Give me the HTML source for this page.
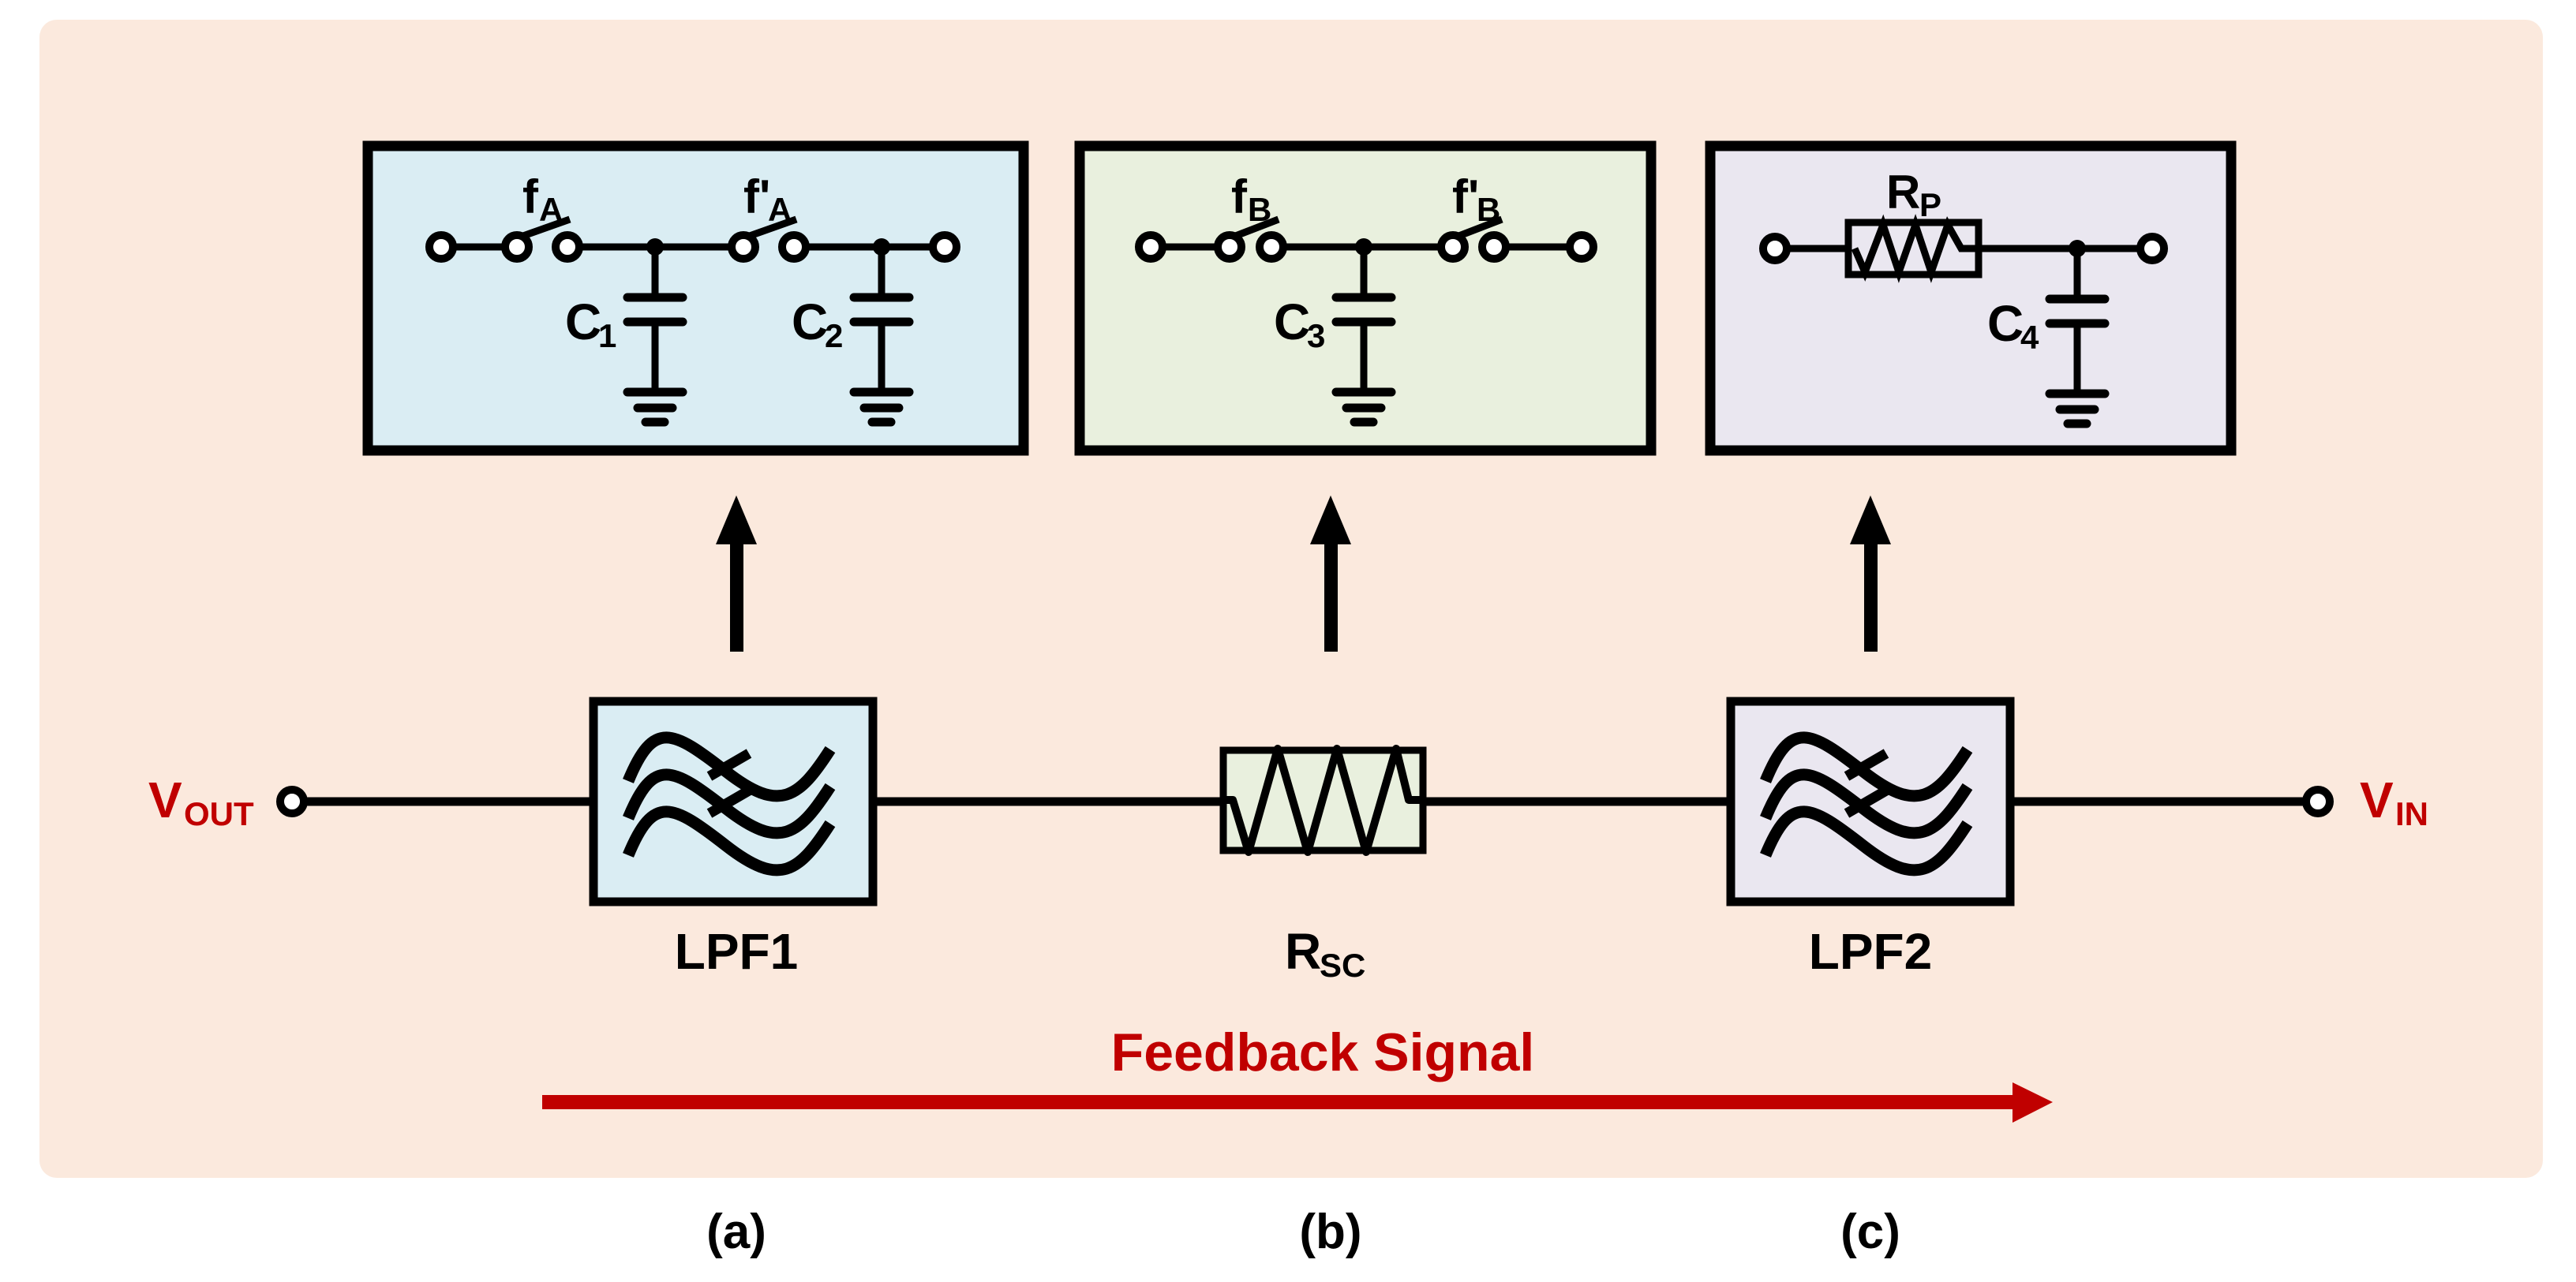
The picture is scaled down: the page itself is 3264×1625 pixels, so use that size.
<!DOCTYPE html>
<html><head><meta charset="utf-8"><style>html,body{margin:0;padding:0;background:#fff}svg{display:block}</style></head>
<body>
<svg width="3264" height="1625" viewBox="0 0 3264 1625" xmlns="http://www.w3.org/2000/svg" font-family="Liberation Sans, Arial, sans-serif" font-weight="bold">
<defs>
<g id="wave"><path d="M796,990 C828,912 852,925 920,978 S1012,1012 1052,950" fill="none" stroke="#000" stroke-width="15"/></g>
<g id="filt">
<use href="#wave"/><use href="#wave" transform="translate(0,47)"/><use href="#wave" transform="translate(0,94)"/>
<line x1="899" y1="984" x2="949" y2="955" stroke="#000" stroke-width="13"/>
<line x1="899" y1="1031" x2="949" y2="1002" stroke="#000" stroke-width="13"/>
</g>
<g id="cap">
<line x1="0" y1="0" x2="0" y2="64" stroke="#000" stroke-width="9"/>
<line x1="-35" y1="64" x2="35" y2="64" stroke="#000" stroke-width="11" stroke-linecap="round"/>
<line x1="-35" y1="95" x2="35" y2="95" stroke="#000" stroke-width="11" stroke-linecap="round"/>
<line x1="0" y1="95" x2="0" y2="184" stroke="#000" stroke-width="9"/>
<line x1="-35" y1="184" x2="35" y2="184" stroke="#000" stroke-width="11" stroke-linecap="round"/>
<line x1="-22" y1="204" x2="22" y2="204" stroke="#000" stroke-width="11" stroke-linecap="round"/>
<line x1="-12" y1="222" x2="12" y2="222" stroke="#000" stroke-width="11" stroke-linecap="round"/>
<circle cx="0" cy="0" r="11" fill="#000"/>
</g>
<g id="term"><circle r="15" fill="#fff" stroke="#000" stroke-width="10"/></g>
</defs>
<rect x="50" y="25" width="3172" height="1468" rx="22" fill="#fbe9dd"/>

<rect x="466" y="185" width="831" height="386" fill="#daedf3" stroke="#000" stroke-width="13"/>
<rect x="1368" y="185" width="724" height="386" fill="#e9f0de" stroke="#000" stroke-width="13"/>
<rect x="2167" y="185" width="660" height="386" fill="#eae7f0" stroke="#000" stroke-width="13"/>

<g stroke="#000" stroke-width="9">
<line x1="559" y1="313" x2="655" y2="313"/>
<line x1="719" y1="313" x2="942" y2="313"/>
<line x1="1006" y1="313" x2="1197" y2="313"/>
<line x1="660" y1="300" x2="722" y2="278"/>
<line x1="947" y1="300" x2="1009" y2="278"/>
</g>
<use href="#cap" transform="translate(830,313)"/>
<use href="#cap" transform="translate(1117,313)"/>
<use href="#term" x="559" y="313"/><use href="#term" x="655" y="313"/><use href="#term" x="719" y="313"/>
<use href="#term" x="942" y="313"/><use href="#term" x="1006" y="313"/><use href="#term" x="1197" y="313"/>
<text x="662" y="270" font-size="60">f</text><text x="683" y="280" font-size="42">A</text>
<text x="942" y="270" font-size="60">f'</text><text x="973" y="280" font-size="42">A</text>
<text x="716" y="430" font-size="64">C</text><text x="758" y="440" font-size="42">1</text>
<text x="1003" y="430" font-size="64">C</text><text x="1045" y="440" font-size="42">2</text>

<g stroke="#000" stroke-width="9">
<line x1="1458" y1="313" x2="1558" y2="313"/>
<line x1="1611" y1="313" x2="1841" y2="313"/>
<line x1="1893" y1="313" x2="2004" y2="313"/>
<line x1="1563" y1="300" x2="1620" y2="278"/>
<line x1="1846" y1="300" x2="1903" y2="278"/>
</g>
<use href="#cap" transform="translate(1728,313)"/>
<use href="#term" x="1458" y="313"/><use href="#term" x="1558" y="313"/><use href="#term" x="1611" y="313"/>
<use href="#term" x="1841" y="313"/><use href="#term" x="1893" y="313"/><use href="#term" x="2004" y="313"/>
<text x="1560" y="270" font-size="60">f</text><text x="1581" y="280" font-size="42">B</text>
<text x="1840" y="270" font-size="60">f'</text><text x="1871" y="280" font-size="42">B</text>
<text x="1614" y="430" font-size="64">C</text><text x="1656" y="440" font-size="42">3</text>

<g stroke="#000" stroke-width="9">
<line x1="2249" y1="315" x2="2342" y2="315"/>
<line x1="2507" y1="315" x2="2727" y2="315"/>
<rect x="2342" y="282" width="165" height="66" fill="none"/>
<polyline points="2350,315 2363,345 2386,285 2406,345 2427,285 2447,345 2468,285 2485,315 2507,315" fill="none"/>
</g>
<use href="#cap" transform="translate(2632,315)"/>
<use href="#term" x="2249" y="315"/><use href="#term" x="2727" y="315"/>
<text x="2390" y="264" font-size="60">R</text><text x="2432" y="274" font-size="42">P</text>
<text x="2518" y="432" font-size="64">C</text><text x="2560" y="442" font-size="42">4</text>

<g fill="#000">
<rect x="925" y="680" width="17" height="146"/><polygon points="907,690 959,690 933,628"/>
<rect x="1678" y="680" width="17" height="146"/><polygon points="1660,690 1712,690 1686,628"/>
<rect x="2362" y="680" width="17" height="146"/><polygon points="2344,690 2396,690 2370,628"/>
</g>

<line x1="370" y1="1016" x2="2937" y2="1016" stroke="#000" stroke-width="11"/>
<rect x="752" y="889" width="354" height="254" fill="#daedf3" stroke="#000" stroke-width="11"/>
<use href="#filt"/>
<rect x="2193" y="889" width="354" height="254" fill="#eae7f0" stroke="#000" stroke-width="11"/>
<use href="#filt" transform="translate(1441,0)"/>
<rect x="1550" y="951" width="253" height="127" fill="#e9f0de" stroke="#000" stroke-width="9"/>
<polyline points="1550,1014 1562,1014 1582,1080 1619,949 1657,1080 1694,949 1731,1080 1769,949 1785,1014 1803,1014" fill="none" stroke="#000" stroke-width="10" stroke-linejoin="round"/>
<use href="#term" x="370" y="1016"/><use href="#term" x="2937" y="1016"/>

<text x="188" y="1036" font-size="64" fill="#c00000">V</text><text x="233" y="1046" font-size="42" fill="#c00000">OUT</text>
<text x="2990" y="1036" font-size="64" fill="#c00000">V</text><text x="3035" y="1046" font-size="42" fill="#c00000">IN</text>

<text x="933" y="1228" font-size="64" text-anchor="middle">LPF1</text>
<text x="2370" y="1228" font-size="64" text-anchor="middle">LPF2</text>
<text x="1628" y="1228" font-size="64">R</text><text x="1672" y="1238" font-size="42">SC</text>

<text x="1676" y="1357" font-size="68" fill="#c00000" text-anchor="middle">Feedback Signal</text>
<rect x="687" y="1388" width="1870" height="18" fill="#c00000"/>
<polygon points="2550,1372 2601,1397 2550,1423" fill="#c00000"/>

<text x="933" y="1582" font-size="62" text-anchor="middle">(a)</text>
<text x="1686" y="1582" font-size="62" text-anchor="middle">(b)</text>
<text x="2370" y="1582" font-size="62" text-anchor="middle">(c)</text>
</svg>
</body></html>
